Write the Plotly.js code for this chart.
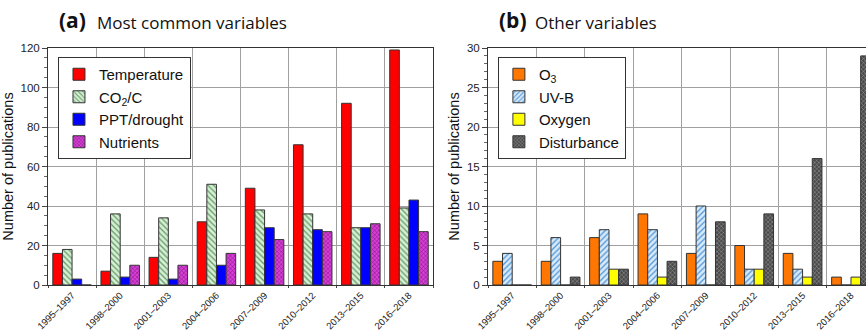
<!DOCTYPE html>
<html><head><meta charset="utf-8">
<script src="https://cdn.plot.ly/plotly-3.0.1.min.js"></script>
<style>html,body{margin:0;padding:0;background:#fff}#chart{width:866px;height:333px}</style>
</head><body><div id="chart"></div>
<script>
const periods = ["1995–1997","1998–2000","2001–2003","2004–2006","2007–2009","2010–2012","2013–2015","2016–2018"];
// Panel (a) most common variables
const temperature = [16, 7, 14, 32, 49, 71, 92, 119];
const co2c        = [18, 36, 34, 51, 38, 36, 29, 39];
const pptDrought  = [3, 4, 3, 10, 29, 28, 29, 43];
const nutrients   = [0, 10, 10, 16, 23, 27, 31, 27];
// Panel (b) other variables
const o3          = [3, 3, 6, 9, 4, 5, 4, 1];
const uvb         = [4, 6, 7, 7, 10, 2, 2, 0];
const oxygen      = [0, 0, 2, 1, 0, 2, 1, 1];
const disturbance = [0, 1, 2, 3, 8, 9, 16, 29];

const FF = "'Liberation Sans', Arial, Helvetica, sans-serif";
const line = {color:'#333', width:1};
function bar(name, y, xa, ya, leg, color, pattern, grp){
  const m = {color: color, line: line};
  if (pattern) m.pattern = pattern;
  return {type:'bar', name:name, x:periods, y:y, xaxis:xa, yaxis:ya, legend:leg, marker:m, legendgroup:grp};
}
const traces = [
  bar('Temperature', temperature, 'x', 'y', 'legend', '#ff0000', null, 'a1'),
  bar('CO<sub>2</sub>/C', co2c, 'x', 'y', 'legend', '#cfe8cf', {shape:'\\', bgcolor:'#d8eed8', fgcolor:'#6aa46a', size:4, solidity:0.35}, 'a2'),
  bar('PPT/drought', pptDrought, 'x', 'y', 'legend', '#0000ff', null, 'a3'),
  bar('Nutrients', nutrients, 'x', 'y', 'legend', '#cc33cc', {shape:'x', bgcolor:'#d63fd6', fgcolor:'#7a107a', size:3, solidity:0.3}, 'a4'),
  bar('O<sub>3</sub>', o3, 'x2', 'y2', 'legend2', '#ff7700', null, 'b1'),
  bar('UV-B', uvb, 'x2', 'y2', 'legend2', '#cfe6f8', {shape:'/', bgcolor:'#d6eafa', fgcolor:'#5b9bd8', size:4, solidity:0.35}, 'b2'),
  bar('Oxygen', oxygen, 'x2', 'y2', 'legend2', '#ffff00', null, 'b3'),
  bar('Disturbance', disturbance, 'x2', 'y2', 'legend2', '#555555', {shape:'x', bgcolor:'#4a4a4a', fgcolor:'#a0a0a0', size:3, solidity:0.3}, 'b4')
];

const tickFont = {family:FF, size:11.5, color:'#222'};
function xax(domain, range){
  return {domain:domain, type:'category', range:range, tickson:'boundaries', ticks:'outside', ticklen:2,
    tickcolor:'#444', tickangle:-45, tickfont:{family:FF, size:9.6, color:'#222'},
    showgrid:true, gridcolor:'#a0a0a0', gridwidth:1, showline:true, linecolor:'#333', linewidth:1, mirror:true, fixedrange:true};
}
function yax(anchor, range, dtick, mdtick){
  return {anchor:anchor, range:range, dtick:dtick, ticks:'outside', ticklen:5, tickcolor:'#444', tickfont:tickFont,
    showgrid:true, gridcolor:'#a0a0a0', gridwidth:1, showline:true, linecolor:'#333', linewidth:1, mirror:true,
    zeroline:false, minor:{dtick:mdtick, ticks:'outside', ticklen:3, tickcolor:'#666', showgrid:false},
    title:{text:'Number of publications', font:{family:FF, size:14.5, color:'#111'}, standoff:3}};
}
const legFont = {family:FF, size:15, color:'#111'};
const layout = {
  width:866, height:333, margin:{l:48, r:0, t:48, b:48},
  paper_bgcolor:'#fff', plot_bgcolor:'#fff', showlegend:true,
  barmode:'group', bargap:0.2, bargroupgap:0,
  xaxis: xax([0, 0.4707], [-0.5, 7.5]),
  yaxis: yax('x', [0, 120], 20, 5),
  xaxis2: Object.assign(xax([0.5379, 1], [-0.5, 7.31]), {anchor:'y2'}),
  yaxis2: yax('x2', [0, 30], 5, 1),
  legend: {x:0.0122, y:0.962, xanchor:'left', yanchor:'top', bgcolor:'#fff', bordercolor:'#333', borderwidth:1,
    font:legFont, tracegroupgap:6, traceorder:'normal'},
  legend2: {x:0.550, y:0.962, xanchor:'left', yanchor:'top', bgcolor:'#fff', bordercolor:'#333', borderwidth:1,
    font:legFont, tracegroupgap:6, traceorder:'normal'},
  annotations: [
    {xref:'paper', yref:'paper', x:(57-48)/818, y:1, yshift:12, xanchor:'left', yanchor:'bottom', showarrow:false,
     text:'<b>(a)</b>', font:{family:'Open Sans, sans-serif', size:21, color:'#111'}},
    {xref:'paper', yref:'paper', x:(95-48)/818, y:1, yshift:12, xanchor:'left', yanchor:'bottom', showarrow:false,
     text:'Most common variables', font:{family:'Open Sans, sans-serif', size:17, color:'#111'}},
    {xref:'paper', yref:'paper', x:(497-48)/818, y:1, yshift:12, xanchor:'left', yanchor:'bottom', showarrow:false,
     text:'<b>(b)</b>', font:{family:'Open Sans, sans-serif', size:21, color:'#111'}},
    {xref:'paper', yref:'paper', x:(533-48)/818, y:1, yshift:12, xanchor:'left', yanchor:'bottom', showarrow:false,
     text:'Other variables', font:{family:'Open Sans, sans-serif', size:17, color:'#111'}}
  ]
};
Plotly.newPlot('chart', traces, layout, {displayModeBar:false, staticPlot:true});
</script></body></html>
